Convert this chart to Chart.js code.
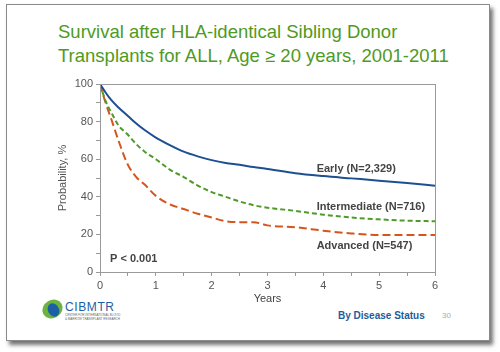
<!DOCTYPE html>
<html>
<head>
<meta charset="utf-8">
<script src="https://cdn.jsdelivr.net/npm/chart.js@4.4.0/dist/chart.umd.min.js"></script>
<style>
  body { margin: 0; background: #fff; font-family: "Liberation Sans", Arial, sans-serif; }
  #wrap { position: relative; width: 500px; height: 352px; overflow: hidden; }
  .slide { position: absolute; left: 6px; top: 4px; width: 482px; height: 335px; border: 1px solid #8a8a8a;
    background: #fff; box-shadow: 3px 4px 4px rgba(0,0,0,0.55); }
  canvas { position: absolute; left: 0; top: 0; }
  .title { position: absolute; left: 58px; top: 20px; font-size: 18.5px; line-height: 24px; color: #4f9a22; white-space: nowrap; }
  .footer { position: absolute; left: 338px; top: 310px; font-size: 10px; font-weight: bold; color: #1f5c99; }
  .page { position: absolute; left: 442px; top: 311px; font-size: 8px; color: #aaa; }
  .logo { position: absolute; left: 40px; top: 296px; width: 82px; height: 34px; }
  .oval1 { position: absolute; left: 2px; top: 4px; width: 21px; height: 18px; border-radius: 50%; background: #6cb33f; transform: rotate(-30deg); }
  .oval2 { position: absolute; left: 8px; top: 7px; width: 11px; height: 14px; border-radius: 50%; background: #1d5fa5; transform: rotate(-30deg); }
  .cib { position: absolute; left: 25px; top: 4px; font-size: 12px; color: #1d5fa5; letter-spacing: 0.6px; }
  .sub { position: absolute; left: 25px; top: 18px; font-size: 3px; line-height: 3.5px; color: #666; white-space: nowrap; }
</style>
</head>
<body>
<div id="wrap">
  <div class="slide"></div>
  <div class="title">Survival after HLA-identical Sibling Donor<br>Transplants for ALL, Age ≥ 20 years, 2001-2011</div>
  <div class="logo">
    <div class="oval1"></div><div class="oval2"></div>
    <div class="cib">CIBMTR</div>
    <div class="sub">CENTER FOR INTERNATIONAL BLOOD<br>&amp; MARROW TRANSPLANT RESEARCH</div>
  </div>
  <div class="footer">By Disease Status</div>
  <div class="page">30</div>
  <canvas id="c" width="500" height="352"></canvas>
</div>
<script>
// years after transplant
const years = [0, 0.1, 0.2, 0.33, 0.5, 0.65, 0.8, 1, 1.25, 1.5, 1.75, 2, 2.25, 2.5, 2.75, 3, 3.5, 4, 4.5, 5, 5.5, 6];
// survival probability, %
const early = [100, 95.5, 91.5, 87.5, 83, 79, 75.5, 71.5, 67.5, 64, 61.5, 59.5, 58, 57, 55.8, 54.8, 52.5, 51, 49.8, 48.6, 47.3, 45.9];
const intermediate = [100, 91, 85, 78, 73, 68, 64, 60, 54.5, 50.5, 46, 42.5, 40, 37.5, 35.5, 34.2, 32.5, 30.5, 29, 28, 27.3, 27];
const advanced = [100, 90, 81.5, 70, 57, 50.5, 46.5, 40.5, 36, 33.5, 31, 29, 27, 26.5, 26.5, 24.8, 23.8, 22, 20.5, 19.7, 19.7, 19.7];

const seriesNames = ['Early (N=2,329)', 'Intermediate (N=716)', 'Advanced (N=547)'];
const seriesColors = ['#1d4f91', '#4f9a2a', '#d4561c'];
// where each curve label sits, [year, %]
const labelPos = [[3.88, 55], [3.88, 34.7], [3.88, 14.1]];

const toPoints = arr => arr.map((v, i) => ({ x: years[i], y: v }));

const frame = {
  id: 'frame',
  afterDraw(chart) {
    const { ctx, chartArea: a, scales } = chart;
    ctx.save();
    ctx.strokeStyle = '#9a9a9a';
    ctx.lineWidth = 1;
    ctx.strokeRect(a.left + 0.5, a.top + 0.5, a.right - a.left, a.bottom - a.top);
    ctx.font = 'bold 11px "Liberation Sans", Arial, sans-serif';
    ctx.fillStyle = '#444';
    ctx.textBaseline = 'middle';
    seriesNames.forEach((n, i) => {
      ctx.fillText(n, scales.x.getPixelForValue(labelPos[i][0]), scales.y.getPixelForValue(labelPos[i][1]));
    });
    ctx.fillText('P < 0.001', scales.x.getPixelForValue(0.18), scales.y.getPixelForValue(6.9));
    ctx.restore();
  }
};

new Chart(document.getElementById('c'), {
  type: 'line',
  data: {
    datasets: [
      { data: toPoints(early), borderColor: seriesColors[0], borderWidth: 2 },
      { data: toPoints(intermediate), borderColor: seriesColors[1], borderWidth: 2, borderDash: [5, 3] },
      { data: toPoints(advanced), borderColor: seriesColors[2], borderWidth: 2, borderDash: [8, 4] }
    ]
  },
  options: {
    responsive: false,
    animation: false,
    events: [],
    layout: { padding: { left: 50, right: 65, top: 84, bottom: 36 } },
    elements: { point: { radius: 0 }, line: { cubicInterpolationMode: 'monotone', fill: false } },
    plugins: { legend: { display: false }, tooltip: { enabled: false } },
    scales: {
      x: {
        type: 'linear', min: 0, max: 6,
        afterFit(s) { s.height = 44; },
        grid: { drawOnChartArea: false, drawTicks: true, tickLength: 4, color: '#999' },
        border: { color: '#999' },
        ticks: { stepSize: 0.5, padding: 3, color: '#555', font: { size: 11, family: '"Liberation Sans", Arial' },
          maxRotation: 0, autoSkip: false,
          callback: v => Number.isInteger(v) ? v : '' },
        title: { display: true, text: 'Years', color: '#444', padding: { top: 0, bottom: 10 },
          font: { size: 11, family: '"Liberation Sans", Arial' } }
      },
      y: {
        min: 0, max: 100,
        afterFit(s) { s.width = 50; },
        grid: { drawOnChartArea: false, drawTicks: true, tickLength: 4, color: '#999' },
        border: { color: '#999' },
        ticks: { stepSize: 10, padding: 3, color: '#555', font: { size: 11, family: '"Liberation Sans", Arial' },
          autoSkip: false,
          callback: v => v % 20 === 0 ? v : '' },
        title: { display: true, text: 'Probability, %', color: '#555', padding: { top: 6, bottom: 0 },
          font: { size: 11, family: '"Liberation Sans", Arial' } }
      }
    }
  },
  plugins: [frame]
});
</script>
</body>
</html>
